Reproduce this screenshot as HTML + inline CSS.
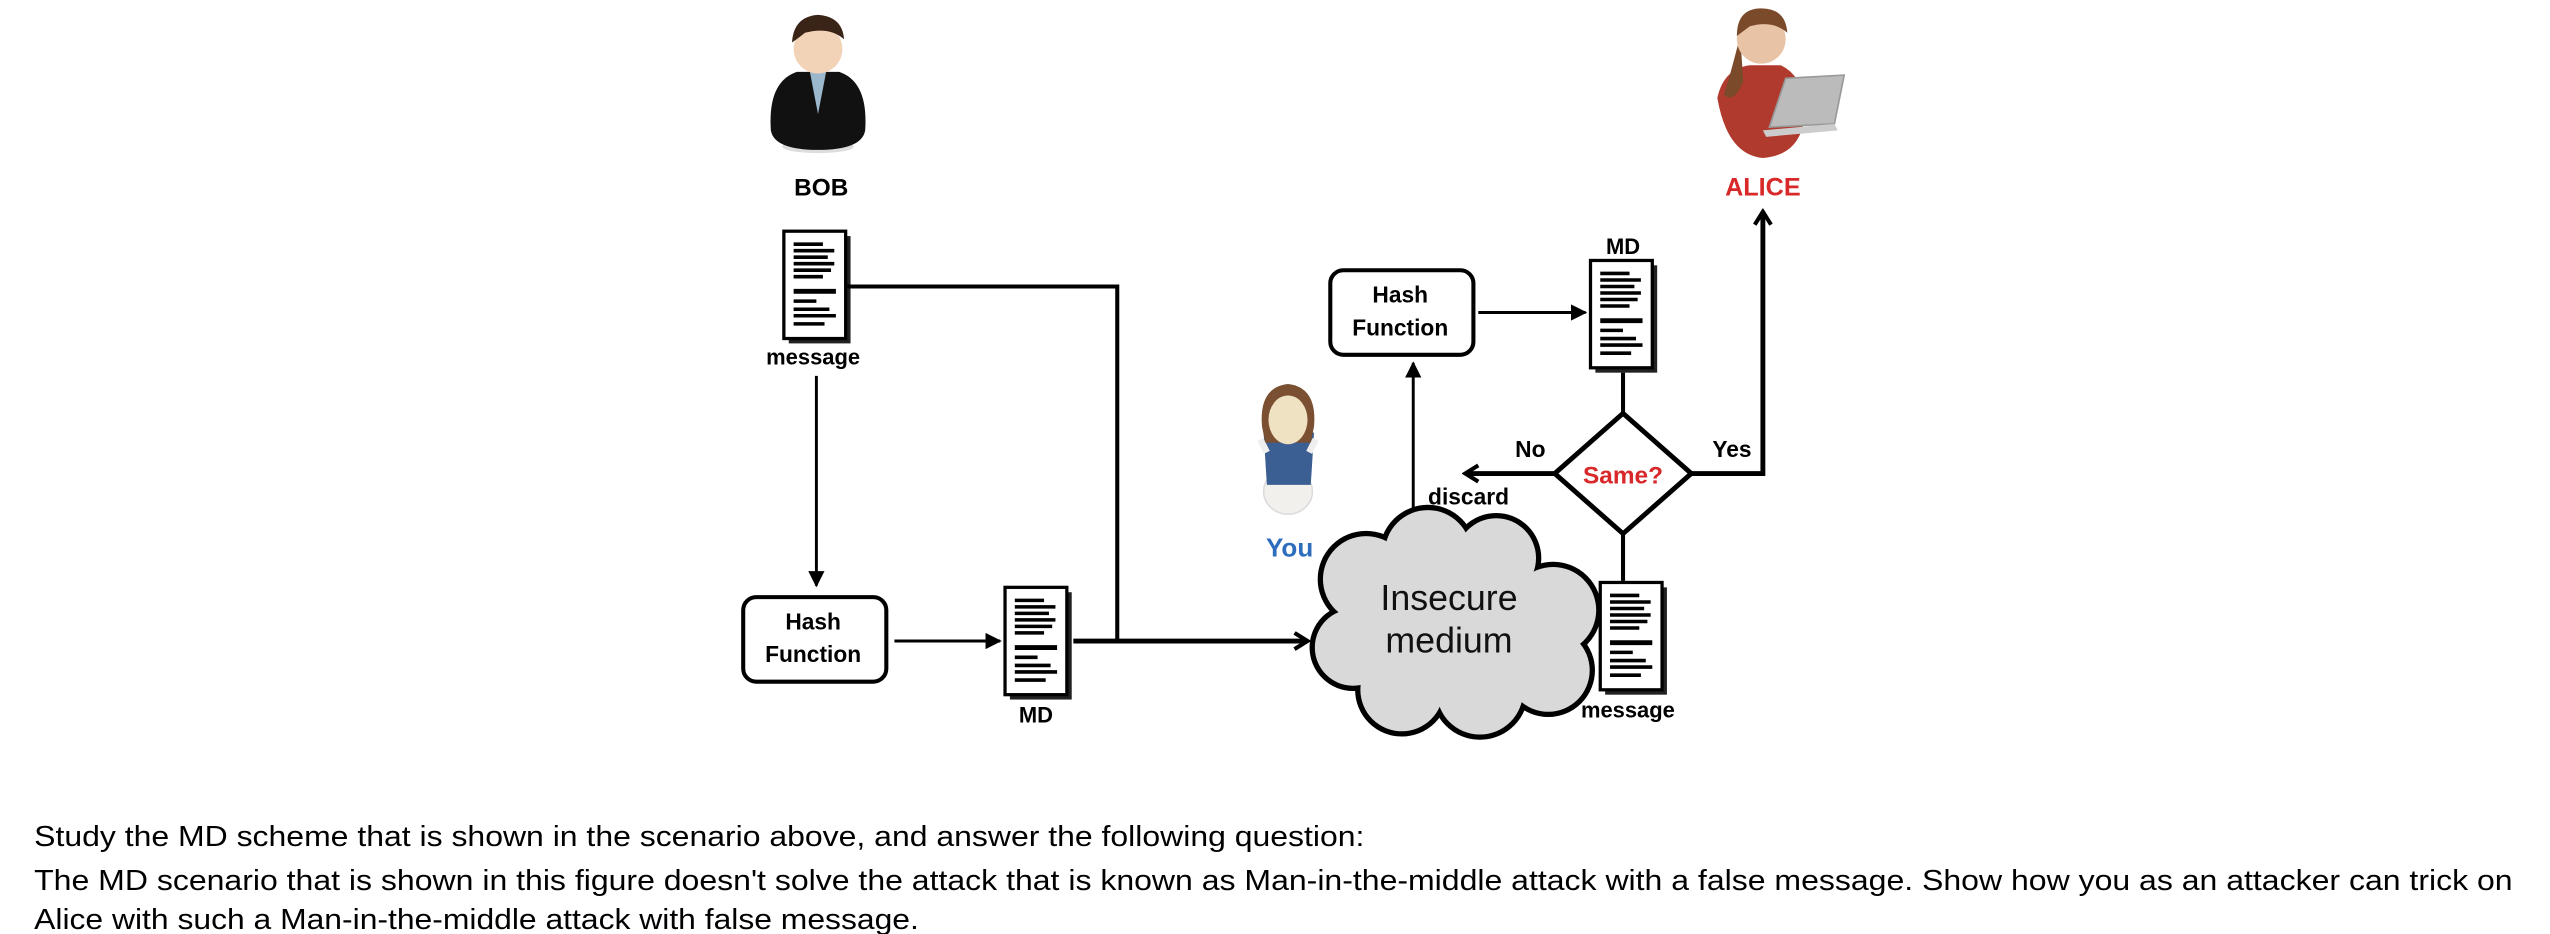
<!DOCTYPE html>
<html><head><meta charset="utf-8"><style>
html,body{margin:0;padding:0;background:#fff;}
svg{display:block;}
text{font-family:"Liberation Sans",Arial,sans-serif;}
</style></head><body>
<svg width="2550" height="934" viewBox="0 0 1568 574" xmlns="http://www.w3.org/2000/svg">
<defs>
<marker id="ah" markerWidth="10" markerHeight="10" refX="9" refY="5" orient="auto" markerUnits="userSpaceOnUse">
<path d="M0,0 L10,5 L0,10 z" fill="#000"/></marker>
<marker id="ao" markerWidth="12" markerHeight="12" refX="10" refY="6" orient="auto" markerUnits="userSpaceOnUse">
<path d="M2,1 L10,6 L2,11" fill="none" stroke="#000" stroke-width="2.5"/></marker>
<g id="doc">
<rect x="3" y="3" width="38" height="66" fill="#222"/>
<rect x="0" y="0" width="38" height="66" fill="#fff" stroke="#000" stroke-width="2"/>
<g stroke="#000" stroke-width="2.2">
<line x1="6" y1="8" x2="24" y2="8"/><line x1="6" y1="12" x2="31" y2="12"/><line x1="6" y1="16" x2="27" y2="16"/>
<line x1="6" y1="20" x2="31" y2="20"/><line x1="6" y1="24" x2="29" y2="24"/><line x1="6" y1="28" x2="24" y2="28"/>
<line x1="6" y1="37" x2="32" y2="37" stroke-width="3"/><line x1="6" y1="43" x2="20" y2="43"/>
<line x1="6" y1="48" x2="28" y2="48"/><line x1="6" y1="52" x2="32" y2="52"/><line x1="6" y1="57" x2="25" y2="57"/>
</g></g>
</defs>

<!-- Bob -->
<ellipse cx="503" cy="90" rx="22" ry="4" fill="#ddd"/>
<path d="M474,80 Q472,50 490,44 L516,44 Q534,50 532,80 Q530,92 503,92 Q476,92 474,80z" fill="#111"/>
<path d="M498,44 L503,70 L508,44z" fill="#9bb8cc"/>
<circle cx="503" cy="30" r="15" fill="#f3d3b8"/>
<path d="M487,26 Q488,10 503,9 Q518,10 519,24 Q510,16 495,20 Q490,24 487,26z" fill="#3a2418"/>
<text x="505" y="120" font-size="15" font-weight="bold" text-anchor="middle">BOB</text>

<!-- Alice -->
<path d="M1056,60 Q1060,42 1076,40 L1095,40 Q1108,46 1110,65 Q1110,95 1084,97 Q1062,95 1056,60z" fill="#b03a2e"/>
<path d="M1070,22 Q1064,46 1060,58 Q1066,64 1072,50z" fill="#7a4a2a"/>
<circle cx="1083" cy="24" r="15" fill="#e9c3a5"/>
<path d="M1068,22 Q1068,5 1083,5 Q1098,5 1099,20 Q1090,12 1076,16z" fill="#7a4a2a"/>
<path d="M1088,78 L1098,48 L1134,46 L1128,76z" fill="#bbb" stroke="#999"/>
<path d="M1084,80 L1128,76 L1130,80 L1086,84z" fill="#ccc"/>
<text x="1084" y="120" font-size="15.5" font-weight="bold" text-anchor="middle" fill="#d8282a">ALICE</text>

<!-- You -->
<ellipse cx="792" cy="302" rx="15" ry="14" fill="#f2f0ec" stroke="#ddd"/>
<path d="M777,266 Q792,258 808,266 L806,298 L779,298z" fill="#3c5f93"/>
<path d="M775,270 L779,278 M809,270 L805,278" stroke="#eee" stroke-width="4"/>
<path d="M776,262 Q774,238 792,236 Q810,238 808,262 L806,272 L778,272z" fill="#7a4f32"/>
<ellipse cx="792" cy="258" rx="12" ry="15" fill="#efe2c3"/>
<text x="793" y="342" font-size="16" font-weight="bold" text-anchor="middle" fill="#2e6dbd">You</text>

<!-- docs -->
<use href="#doc" x="482" y="142" transform="translate(0,0)"/>
<text x="500" y="224" font-size="13.5" font-weight="bold" text-anchor="middle">message</text>
<use href="#doc" x="618" y="361"/>
<text x="637" y="444" font-size="13.5" font-weight="bold" text-anchor="middle">MD</text>
<use href="#doc" x="978" y="160"/>
<text x="998" y="156" font-size="13.5" font-weight="bold" text-anchor="middle">MD</text>
<use href="#doc" x="984" y="358"/>
<text x="1001" y="441" font-size="13.5" font-weight="bold" text-anchor="middle">message</text>

<!-- lines -->
<g stroke="#000" fill="none">
<polyline points="521,176 687,176 687,394" stroke-width="2.5"/>
<line x1="502" y1="231" x2="502" y2="360" stroke-width="1.8" marker-end="url(#ah)"/>
<line x1="550" y1="394" x2="615" y2="394" stroke-width="1.8" marker-end="url(#ah)"/>
<line x1="660" y1="394" x2="804" y2="394" stroke-width="3" marker-end="url(#ao)"/>
<line x1="869" y1="322" x2="869" y2="223" stroke-width="1.8" marker-end="url(#ah)"/>
<line x1="909" y1="192" x2="975" y2="192" stroke-width="1.8" marker-end="url(#ah)"/>
<line x1="998" y1="229" x2="998" y2="254" stroke-width="2.5"/>
<line x1="998" y1="328" x2="998" y2="357" stroke-width="2.5"/>
<line x1="956" y1="291" x2="901" y2="291" stroke-width="3" marker-end="url(#ao)"/>
<polyline points="1040,291 1084,291 1084,130" stroke-width="3" marker-end="url(#ao)"/>
</g>

<!-- hash boxes -->
<rect x="457" y="367" width="88" height="52" rx="8" fill="#fff" stroke="#000" stroke-width="2.5"/>
<text x="500" y="387" font-size="14" font-weight="bold" text-anchor="middle">Hash</text>
<text x="500" y="407" font-size="14" font-weight="bold" text-anchor="middle">Function</text>
<rect x="818" y="166" width="88" height="52" rx="8" fill="#fff" stroke="#000" stroke-width="2.5"/>
<text x="861" y="186" font-size="14" font-weight="bold" text-anchor="middle">Hash</text>
<text x="861" y="206" font-size="14" font-weight="bold" text-anchor="middle">Function</text>

<!-- diamond -->
<polygon points="998,254 1040,291 998,328 956,291" fill="#fff" stroke="#000" stroke-width="3"/>
<text x="998" y="297" font-size="15" font-weight="bold" text-anchor="middle" fill="#d8282a">Same?</text>
<text x="941" y="281" font-size="14" font-weight="bold" text-anchor="middle">No</text>
<text x="903" y="310" font-size="14" font-weight="bold" text-anchor="middle">discard</text>
<text x="1065" y="281" font-size="14" font-weight="bold" text-anchor="middle">Yes</text>

<!-- cloud -->
<g stroke="#000" stroke-width="3.5" fill="#d9d9d9">
<circle cx="840" cy="356" r="28"/><circle cx="878" cy="340" r="28"/><circle cx="920" cy="343" r="26"/>
<circle cx="955" cy="375" r="28"/><circle cx="952" cy="412" r="27"/><circle cx="910" cy="425" r="28"/>
<circle cx="862" cy="424" r="27"/><circle cx="832" cy="398" r="25"/>
</g>
<g fill="#d9d9d9">
<circle cx="840" cy="356" r="26.5"/><circle cx="878" cy="340" r="26.5"/><circle cx="920" cy="343" r="24.5"/>
<circle cx="955" cy="375" r="26.5"/><circle cx="952" cy="412" r="25.5"/><circle cx="910" cy="425" r="26.5"/>
<circle cx="862" cy="424" r="25.5"/><circle cx="832" cy="398" r="23.5"/><circle cx="893" cy="385" r="50"/>
</g>
<text x="891" y="375" font-size="22" text-anchor="middle" fill="#111">Insecure</text>
<text x="891" y="401" font-size="22" text-anchor="middle" fill="#111">medium</text>

<!-- question -->
<text x="21" y="520" font-size="17.5" textLength="818" lengthAdjust="spacingAndGlyphs">Study the MD scheme that is shown in the scenario above, and answer the following question:</text>
<text x="21" y="547" font-size="17.5" textLength="1524" lengthAdjust="spacingAndGlyphs">The MD scenario that is shown in this figure doesn't solve the attack that is known as Man-in-the-middle attack with a false message. Show how you as an attacker can trick on</text>
<text x="21" y="571" font-size="17.5" textLength="544" lengthAdjust="spacingAndGlyphs">Alice with such a Man-in-the-middle attack with false message.</text>
</svg>
</body></html>
